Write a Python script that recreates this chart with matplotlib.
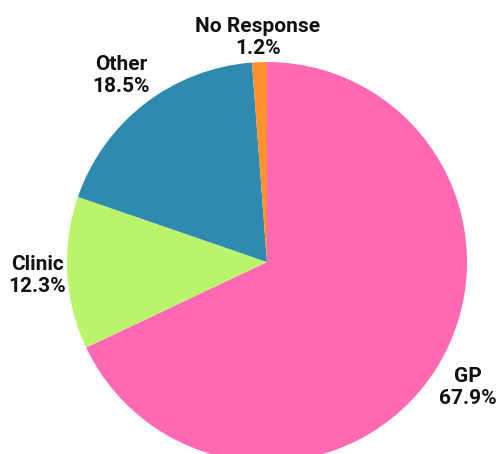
import matplotlib
matplotlib.use("Agg")
import matplotlib.pyplot as plt

categories = ["GP", "Clinic", "Other", "No Response"]
shares = [67.9, 12.3, 18.5, 1.2]
colors = ["#FF69B4", "#BBF46A", "#2F8AB0", "#FF9130"]

# label anchor points (pixels from top-left of the canvas)
label_xy = [(468, 388), (37, 276), (121, 75), (258, 37)]

W, H = 497, 454
fig = plt.figure(figsize=(W / 100, H / 100), dpi=100)
ax = fig.add_axes([0, 0, 1, 1])

ax.pie(
    shares,
    colors=colors,
    startangle=90,
    counterclock=False,
    center=(267, H - 262),
    radius=200,
    frame=True,
)

for cat, val, (x, y) in zip(categories, shares, label_xy):
    ax.text(x, H - y, f"{cat}\n{val:.1f}%", ha="center", va="center",
            fontsize=15, fontweight="bold", family="Roboto", color="#111111",
            linespacing=1.2)

ax.set_xlim(0, W)
ax.set_ylim(0, H)
ax.axis("off")

fig.savefig("out.png", dpi=100)
